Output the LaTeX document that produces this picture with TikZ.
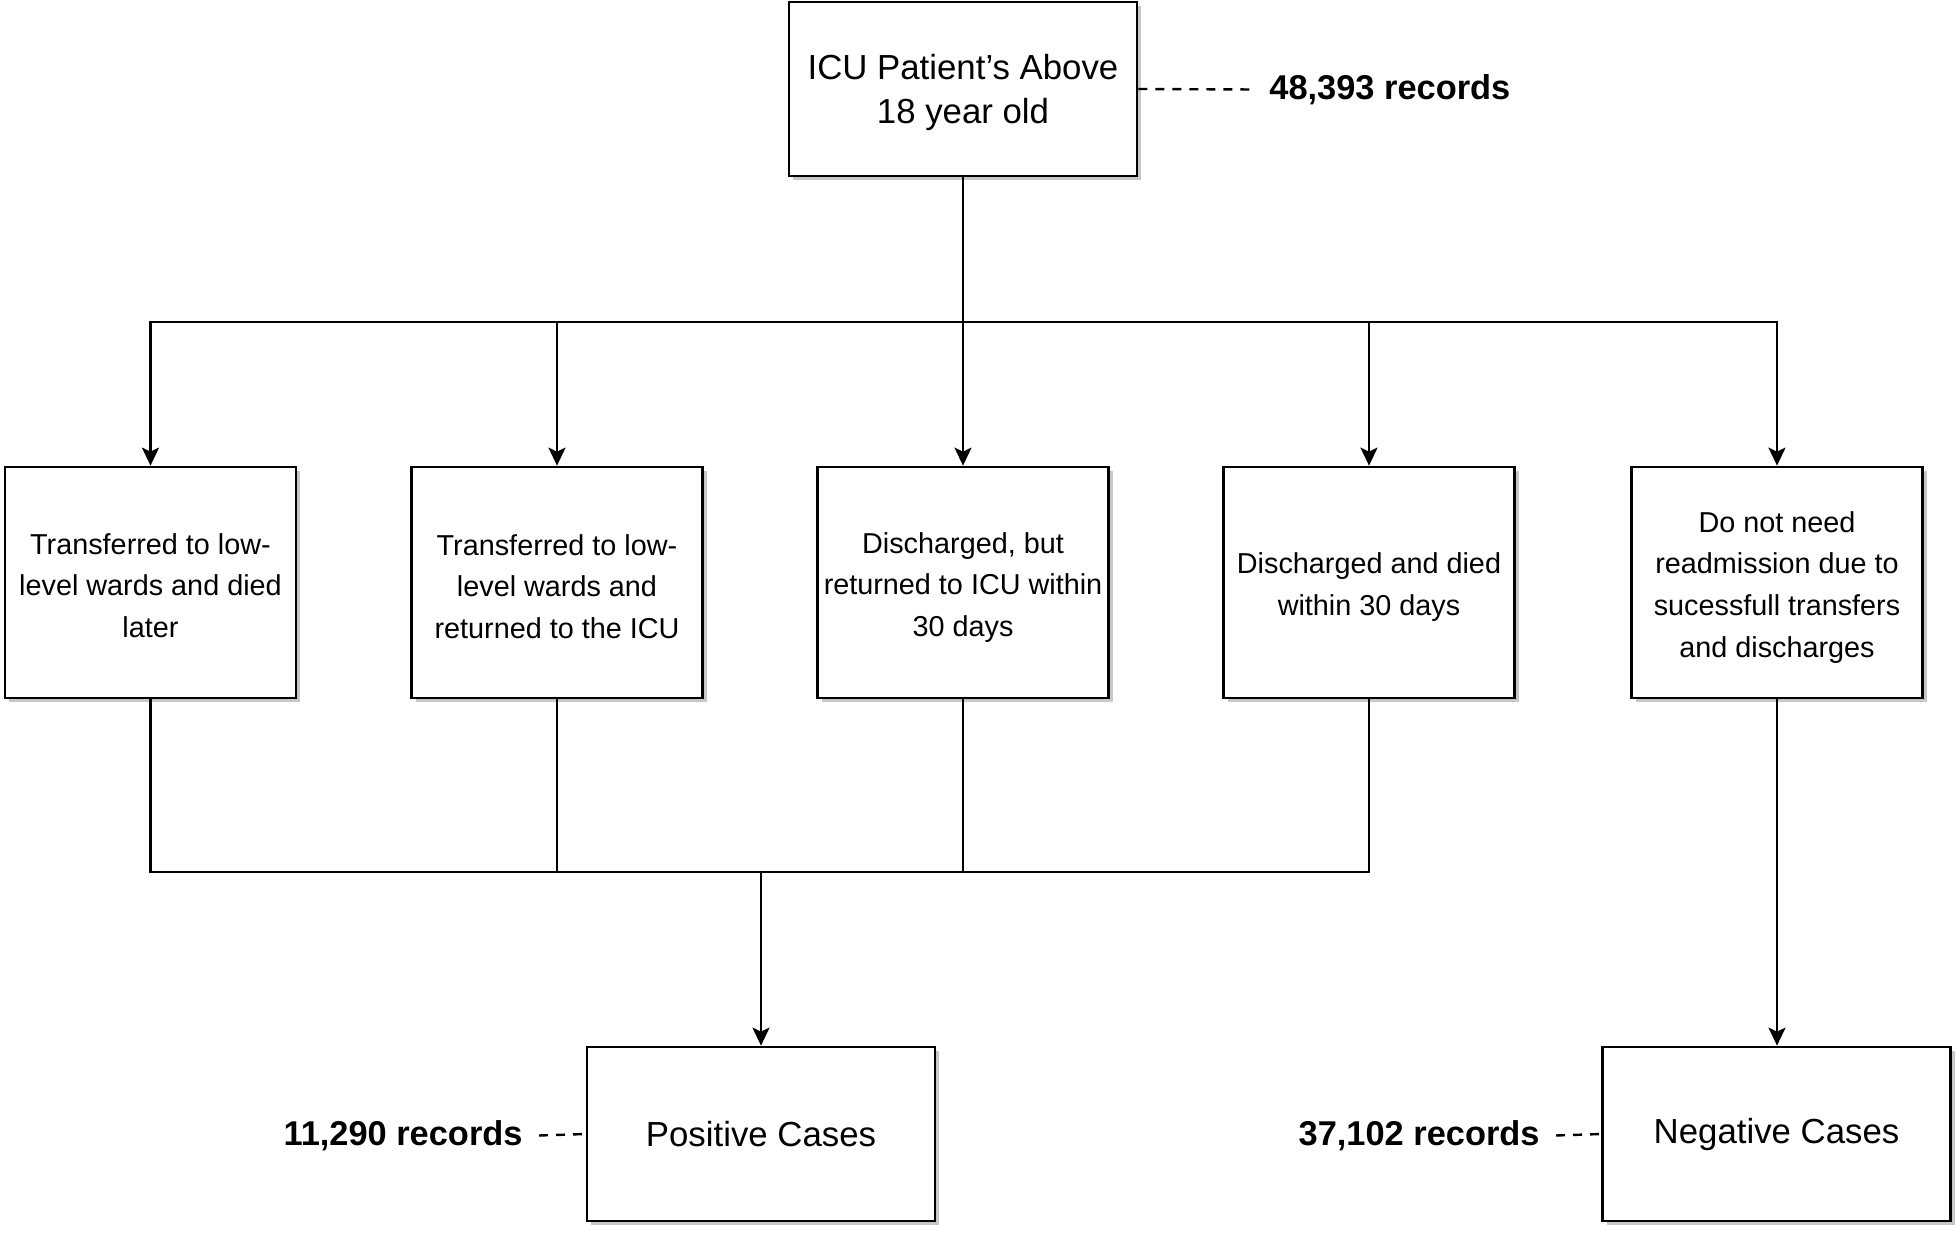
\documentclass[tikz,border=0pt]{standalone}
\usepackage{fontspec}
\setmainfont{Liberation Sans}
\usetikzlibrary{arrows.meta,shadows}
\begin{document}
\begin{tikzpicture}[x=0.5pt,y=-0.5pt,
  box/.style={draw, fill=white, line width=1.35pt, inner sep=0pt,
    drop shadow={shadow xshift=2pt, shadow yshift=-2pt, fill=black!22, opacity=1}},
  bigbox/.style={box, minimum width=174pt, minimum height=87pt},
  midbox/.style={box, minimum width=145.5pt, minimum height=115.5pt},
  bigtext/.style={inner sep=0pt, align=center, font=\fontsize{17.4pt}{21.9pt}\selectfont},
  midtext/.style={inner sep=0pt, align=center, font=\fontsize{14.4pt}{20.8pt}\selectfont},
  count/.style={inner ysep=0pt, inner xsep=8pt, font=\fontsize{17.2pt}{20pt}\selectfont\bfseries},
  conn/.style={line width=1.3pt},
  arr/.style={conn, -{Stealth[length=9pt,width=8.5pt,inset=2pt]}},
  dashline/.style={line width=1.2pt, dash pattern=on 4.5pt off 4pt}
]
\useasboundingbox (0,0) rectangle (1959,1234);

\node[bigbox] (top) at (963,89) {};
\node[bigtext] (ttop) at ([yshift=-1.9pt]top.center) {ICU Patient's Above\\18 year old};
\node[count, anchor=west] (ctop) at (1253,89.5) {48,393 records};
\draw[dashline] (top.east) -- (ctop.west);

\node[midbox] (b1) at (150.5,582.5) {};
\node[midbox] (b2) at (557,582.5) {};
\node[midbox] (b3) at (963,582.5) {};
\node[midbox] (b4) at (1369,582.5) {};
\node[midbox] (b5) at (1777,582.5) {};
\node[midtext] (t1) at ([yshift=-1.6pt]b1.center) {Transferred to low-\\level wards and died\\later};
\node[midtext] (t2) at ([yshift=-2pt]b2.center) {Transferred to low-\\level wards and\\returned to the ICU};
\node[midtext] (t3) at ([yshift=-2.4pt]b3.center) {Discharged, but\\returned to ICU within\\30 days};
\node[midtext] (t4) at ([yshift=-2.2pt]b4.center) {Discharged and died\\within 30 days};
\node[midtext] (t5) at ([yshift=-2.4pt]b5.center) {Do not need\\readmission due to\\sucessfull transfers\\and discharges};

\node[bigbox] (pos) at (761,1134) {};
\node[bigbox] (neg) at (1776.5,1134) {};
\node[bigtext] (tpos) at (pos.center) {Positive Cases};
\node[bigtext] (tneg) at (neg.center) {Negative Cases};
\node[count, anchor=east] (cpos) at (539,1135.5) {11,290 records};
\node[count, anchor=east] (cneg) at (1556,1135.5) {37,102 records};
\draw[dashline] (cpos.east) -- (pos.west);
\draw[dashline] (cneg.east) -- (neg.west);

% top split
\coordinate (split) at (963,322);
\draw[conn] (top.south) -- (split);
\draw[arr] (split) -- (b3.north);
\draw[arr] (split) -| (b1.north);
\draw[arr] (split) -| (b2.north);
\draw[arr] (split) -| (b4.north);
\draw[arr] (split) -| (b5.north);

% bottom merge
\coordinate (merge) at (761,872);
\draw[conn] (b1.south) |- (merge);
\draw[conn] (b4.south) |- (merge);
\draw[conn] (b2.south) -- (b2.south |- merge);
\draw[conn] (b3.south) -- (b3.south |- merge);
\draw[arr] (merge) -- (pos.north);
\draw[arr] (b5.south) -- (b5.south |- neg.north);
\end{tikzpicture}
\end{document}
